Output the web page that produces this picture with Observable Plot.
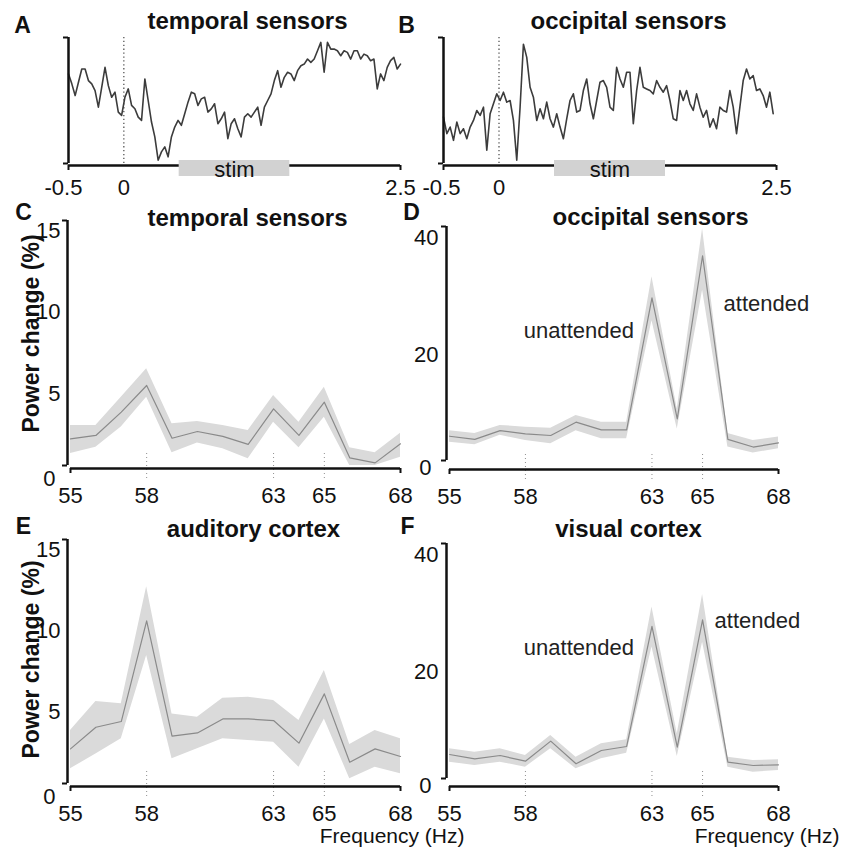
<!DOCTYPE html>
<html>
<head>
<meta charset="utf-8">
<script src="https://cdn.jsdelivr.net/npm/d3@7"></script>
<script src="https://cdn.jsdelivr.net/npm/@observablehq/plot@0.6"></script>
<style>
  html, body { margin: 0; padding: 0; background: #fff; }
  #fig { position: relative; width: 843px; height: 851px; overflow: hidden; background: #fff; }
  #fig svg { position: absolute; left: 0; top: 0; }
</style>
</head>
<body>
<div id="fig"></div>
<script>
// ---------------- DATA ----------------
// Evoked responses (arbitrary units, 0 = bottom of axis, 100 = top), sampled every 30 ms from -0.5 s
const timeStart = -0.5;
const timeStep = 0.03;
const erfTicks = [-0.5, 0, 2.5];
const stimWindow = {start: 0.5, end: 1.5, label: "stim"};

const temporalERF = [
  71.1, 63.2, 53.9, 64.5, 75.0, 75.0, 65.8, 63.2, 57.9, 44.7,
  60.5, 76.3, 61.8, 52.6, 56.6, 40.8, 38.2, 52.6, 59.2, 46.1,
  43.4, 36.8, 34.2, 67.1, 50.0, 32.9, 21.1, 2.6, 9.2, 13.2,
  5.3, 21.1, 28.9, 34.2, 30.3, 39.5, 48.7, 56.6, 55.3, 46.1,
  51.3, 52.6, 40.8, 43.4, 47.4, 31.6, 35.5, 40.8, 19.7, 31.6,
  35.5, 27.6, 21.1, 36.8, 39.5, 36.8, 40.8, 44.7, 30.3, 44.7,
  50.0, 55.3, 65.8, 73.7, 60.5, 68.4, 72.4, 71.1, 65.8, 73.7,
  77.6, 78.9, 82.9, 80.3, 82.9, 89.5, 96.1, 72.4, 96.1, 90.8,
  90.8, 89.5, 85.5, 89.5, 88.2, 82.9, 89.5, 89.5, 82.9, 86.8,
  85.5, 81.6, 82.9, 59.2, 71.1, 65.8, 76.3, 81.6, 84.2, 75.0,
  78.9
];

const occipitalERF = [
  36.8, 23.7, 28.9, 18.4, 32.9, 23.7, 27.6, 19.7, 28.9, 34.2,
  42.1, 38.2, 44.7, 10.5, 39.5, 47.4, 55.3, 50.0, 56.6, 48.7,
  50.0, 34.2, 2.6, 44.7, 94.7, 84.2, 60.5, 52.6, 34.2, 43.4,
  35.5, 48.7, 35.5, 28.9, 39.5, 28.9, 19.7, 35.5, 50.0, 55.3,
  40.8, 42.1, 57.9, 67.1, 47.4, 35.5, 50.0, 64.5, 65.8, 60.5,
  44.7, 42.1, 76.3, 67.1, 60.5, 72.4, 72.4, 31.6, 57.9, 76.3,
  60.5, 59.2, 57.9, 55.3, 65.8, 60.5, 56.6, 61.8, 50.0, 35.5,
  34.2, 57.9, 50.0, 57.9, 47.4, 42.1, 55.3, 44.7, 36.8, 42.1,
  28.9, 35.5, 27.6, 44.7, 42.1, 40.8, 57.9, 44.7, 23.7, 44.7,
  65.8, 75.0, 67.1, 69.7, 57.9, 59.2, 53.9, 44.7, 56.6, 39.5
];

// Power spectra (% change), 55..68 Hz
const freqs = [55, 56, 57, 58, 59, 60, 61, 62, 63, 64, 65, 66, 67, 68];
const freqTicks = [55, 58, 63, 65, 68];
const markedFreqs = [58, 63, 65];
const powerTicksSmall = [0, 5, 10, 15];
const powerTicksLarge = [0, 20, 40];
const peakFreqs = [63, 65];
const peakLabels = ["unattended", "attended"];

const temporalMean = [1.63, 1.84, 3.27, 4.90, 1.67, 2.08, 1.78, 1.29, 3.47, 1.84, 3.88, 0.47, 0.16, 1.33];
const temporalHi   = [2.45, 2.45, 4.18, 5.92, 2.55, 2.69, 2.45, 2.14, 4.29, 2.65, 4.79, 1.08, 0.78, 1.98];
const temporalLo   = [0.73, 1.12, 2.35, 4.18, 0.78, 1.37, 1.02, 0.41, 2.65, 1.08, 2.96, 0.00, 0.00, 0.51];

const occipitalMean = [4.15, 3.60, 5.10, 4.56, 4.27, 6.55, 5.24, 5.24, 27.8, 7.10, 35.0, 3.60, 2.30, 3.00];
const occipitalHi   = [5.10, 4.60, 6.00, 5.70, 5.50, 7.70, 6.55, 6.55, 31.4, 8.80, 39.6, 4.60, 3.40, 4.00];
const occipitalLo   = [3.10, 2.70, 4.30, 3.40, 2.85, 5.10, 3.70, 3.70, 23.9, 5.40, 29.1, 2.30, 1.30, 2.00];

const auditoryMean = [2.13, 3.46, 3.81, 10.0, 2.91, 3.11, 3.97, 3.97, 3.87, 2.48, 5.51, 1.31, 2.13, 1.66];
const auditoryHi   = [3.26, 5.04, 4.90, 12.1, 4.28, 4.08, 5.24, 5.30, 5.10, 3.87, 6.94, 2.40, 3.26, 2.75];
const auditoryLo   = [0.90, 1.82, 2.75, 7.87, 1.52, 2.13, 2.75, 2.64, 2.54, 1.00, 3.97, 0.29, 1.00, 0.60];

const visualMean = [4.08, 3.35, 3.91, 2.95, 6.36, 2.50, 4.77, 5.45, 25.9, 5.33, 27.0, 2.78, 2.21, 2.33];
const visualHi   = [5.05, 4.48, 5.05, 3.91, 7.32, 3.63, 5.90, 6.58, 29.2, 7.60, 31.3, 3.63, 3.06, 3.18];
const visualLo   = [2.78, 2.21, 2.78, 1.93, 5.05, 1.65, 3.35, 4.31, 22.4, 3.74, 23.2, 1.93, 1.08, 1.36];

// ---------------- DRAWING ----------------
const FONT = '"Liberation Sans", Arial, Helvetica, sans-serif';
const INK = "#111";
const W = 843, H = 851;
const fig = document.getElementById("fig");
const base = {
  width: W, height: H, margin: 0,
  style: {background: "transparent", overflow: "visible", fontFamily: FONT}
};

function erfPanel(values, xRange, firstDx) {
  const data = values.map((v, i) => ({t: timeStart + i * timeStep, v}));
  return Plot.plot({
    ...base,
    x: {domain: [-0.5, 2.5], range: xRange, axis: null},
    y: {domain: [0, 100], range: [163, 37], axis: null},
    marks: [
      Plot.ruleX([0], {y1: () => 0, y2: () => 100, stroke: "#555", strokeWidth: 1.3, strokeDasharray: "1.3 2.6"}),
      Plot.lineY(data, {x: "t", y: "v", stroke: "#3c3c3c", strokeWidth: 1.6, strokeLinejoin: "round"}),
      Plot.ruleX([-0.5], {y1: () => 0, y2: () => 100, stroke: INK, strokeWidth: 2.5}),
      Plot.ruleY([0, 100], {x1: () => -0.5, x2: () => -0.5, insetLeft: -5, stroke: INK, strokeWidth: 2}),
      Plot.ruleY([0], {x1: () => -0.5, x2: () => 2.5, dy: 2, stroke: INK, strokeWidth: 2.5}),
      Plot.ruleX([-0.5, 2.5], {y1: () => 0, y2: () => 0, dy: 2, insetBottom: -5, stroke: INK, strokeWidth: 2}),
      Plot.rect([stimWindow], {x1: "start", x2: "end", y1: () => 0, y2: () => 0, insetTop: -3, insetBottom: -13, fill: "#d2d2d2"}),
      Plot.text([stimWindow], {x: d => (d.start + d.end) / 2, y: () => 0, text: "label", dy: 6, fontSize: 22, fill: INK, fontFamily: FONT}),
      Plot.text(erfTicks.slice(0, 1), {x: d => d, y: () => 0, text: d => String(d), dx: firstDx, dy: 24, fontSize: 22, fill: INK, fontFamily: FONT}),
      Plot.text(erfTicks.slice(1), {x: d => d, y: () => 0, text: d => String(d), dy: 24, fontSize: 22, fill: INK, fontFamily: FONT})
    ]
  });
}

function specPanel(o) {
  const data = freqs.map((f, i) => ({f, m: o.mean[i], lo: o.lo[i], hi: o.hi[i]}));
  const yMax = o.ticks[o.ticks.length - 1];
  const marks = [
    Plot.areaY(data, {x: "f", y1: "lo", y2: "hi", fill: "#dadada"}),
    Plot.lineY(data, {x: "f", y: "m", stroke: "#8a8a8a", strokeWidth: 1.2}),
    Plot.ruleX(markedFreqs, {y1: () => 0, y2: () => 0, dy: o.gap, insetTop: -15, insetBottom: -10, stroke: "#8f8f8f", strokeWidth: 1, strokeDasharray: "1 3"}),
    Plot.ruleX([55], {y1: () => 0, y2: () => yMax, dx: -3, stroke: INK, strokeWidth: 2.5}),
    Plot.ruleY([0, yMax], {x1: () => 55, x2: () => 55, dx: -3, insetLeft: -5, stroke: INK, strokeWidth: 2}),
    Plot.ruleY([0], {x1: () => 55, x2: () => 68, dy: o.gap, stroke: INK, strokeWidth: 2.5}),
    Plot.ruleX([55, 68], {y1: () => 0, y2: () => 0, dy: o.gap, insetBottom: -5, stroke: INK, strokeWidth: 2}),
    Plot.text(freqTicks, {x: d => d, y: () => 0, text: d => String(d), dy: o.gap + 27, fontSize: 22, fill: INK, fontFamily: FONT}),
    Plot.text(o.ticks.filter(d => d !== 0), {x: () => 55, y: d => d, text: d => String(d), dx: o.tickDx, dy: o.tickDy, textAnchor: "end", fontSize: 22, fill: INK, fontFamily: FONT}),
    Plot.text([0], {x: () => 55, y: d => d, text: d => String(d), dx: o.zeroDx, dy: o.zeroDy, textAnchor: "end", fontSize: 22, fill: INK, fontFamily: FONT})
  ];
  if (o.labels) {
    const pk = peakFreqs.map((f, i) => ({f, m: o.mean[freqs.indexOf(f)], label: peakLabels[i]}));
    marks.push(
      Plot.text([pk[0]], {x: "f", y: "m", text: "label", dx: o.labels.ux, dy: o.labels.uy, textAnchor: "end", fontSize: 22, fill: "#222", fontFamily: FONT}),
      Plot.text([pk[1]], {x: "f", y: "m", text: "label", dx: o.labels.ax, dy: o.labels.ay, textAnchor: "start", fontSize: 22, fill: "#222", fontFamily: FONT})
    );
  }
  return Plot.plot({
    ...base,
    x: {domain: [55, 68], range: o.xRange, axis: null},
    y: {domain: [0, yMax], range: o.yRange, axis: null},
    marks
  });
}

// Panels A, B
fig.append(erfPanel(temporalERF, [68, 400], -5));
fig.append(erfPanel(occipitalERF, [443, 776], -2));

// Panels C-F
fig.append(specPanel({mean: temporalMean, lo: temporalLo, hi: temporalHi, ticks: powerTicksSmall,
  xRange: [70, 400], yRange: [465, 220], gap: 3, tickDx: -10, tickDy: 10, zeroDx: -15, zeroDy: 13}));
fig.append(specPanel({mean: occipitalMean, lo: occipitalLo, hi: occipitalHi, ticks: powerTicksLarge,
  xRange: [449, 778], yRange: [460, 226], gap: 9, tickDx: -11, tickDy: 11, zeroDx: -18, zeroDy: 7,
  labels: {ux: -18, uy: 33, ax: 21, ay: 48}}));
fig.append(specPanel({mean: auditoryMean, lo: auditoryLo, hi: auditoryHi, ticks: powerTicksSmall,
  xRange: [70, 400], yRange: [783, 539], gap: 3, tickDx: -10, tickDy: 10, zeroDx: -15, zeroDy: 13}));
fig.append(specPanel({mean: visualMean, lo: visualLo, hi: visualHi, ticks: powerTicksLarge,
  xRange: [449, 778], yRange: [778, 543], gap: 8, tickDx: -11, tickDy: 11, zeroDx: -18, zeroDy: 7,
  labels: {ux: -18, uy: 22, ax: 12, ay: 1}}));

// Titles, panel letters and axis titles
const panelLetters = [
  {x: 22, y: 25, s: "A"}, {x: 406, y: 25, s: "B"},
  {x: 23, y: 212, s: "C"}, {x: 411, y: 212, s: "D"},
  {x: 23, y: 526, s: "E"}, {x: 407, y: 526, s: "F"}
];
const titles = [
  {x: 247, y: 21, s: "temporal sensors"}, {x: 628, y: 21, s: "occipital sensors"},
  {x: 247, y: 218, s: "temporal sensors"}, {x: 650, y: 217, s: "occipital sensors"},
  {x: 253, y: 529, s: "auditory cortex"}, {x: 628, y: 529, s: "visual cortex"}
];
const yTitles = [{x: 31, y: 333, s: "Power change (%)"}, {x: 31, y: 659, s: "Power change (%)"}];
const xTitles = [{x: 464, y: 836, s: "Frequency (Hz)"}, {x: 839, y: 836, s: "Frequency (Hz)"}];

fig.append(Plot.plot({
  ...base,
  x: {domain: [0, W], range: [0, W], axis: null},
  y: {domain: [0, H], range: [0, H], axis: null},
  marks: [
    Plot.text(panelLetters, {x: "x", y: "y", text: "s", fontSize: 23, fontWeight: "bold", fill: INK, fontFamily: FONT}),
    Plot.text(titles, {x: "x", y: "y", text: "s", fontSize: 24, fontWeight: "bold", fill: INK, fontFamily: FONT}),
    Plot.text(yTitles, {x: "x", y: "y", text: "s", rotate: -90, fontSize: 23, fontWeight: "bold", fill: INK, fontFamily: FONT}),
    Plot.text(xTitles, {x: "x", y: "y", text: "s", textAnchor: "end", fontSize: 21, fill: INK, fontFamily: FONT})
  ]
}));
</script>
</body>
</html>
